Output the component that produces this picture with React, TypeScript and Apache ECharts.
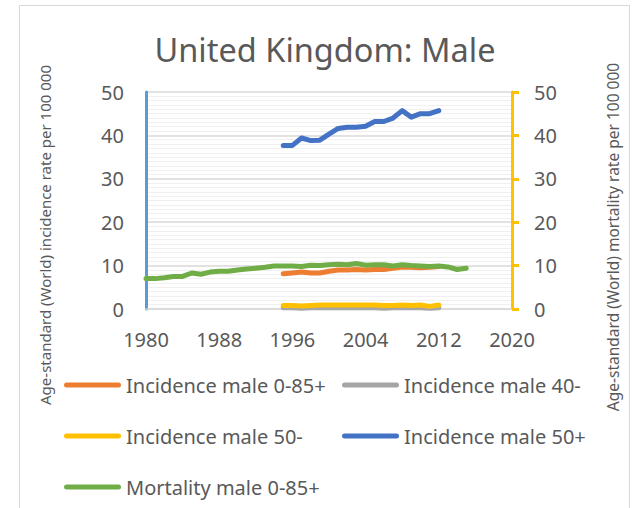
import React, { useEffect, useRef } from "react";
import * as echarts from "echarts";

const incidenceYears = [1995, 1996, 1997, 1998, 1999, 2000, 2001, 2002, 2003, 2004, 2005, 2006, 2007, 2008, 2009, 2010, 2011, 2012];
const incMale0_85 = [8.1, 8.3, 8.5, 8.3, 8.3, 8.7, 9.0, 9.0, 9.1, 9.0, 9.1, 9.1, 9.4, 9.7, 9.6, 9.5, 9.6, 9.8];
const incMale40 = [0.3, 0.3, 0.2, 0.3, 0.3, 0.3, 0.3, 0.3, 0.3, 0.3, 0.3, 0.2, 0.3, 0.3, 0.3, 0.3, 0.2, 0.3];
const incMale50minus = [0.8, 0.8, 0.7, 0.8, 0.9, 0.9, 0.9, 0.9, 0.9, 0.9, 0.9, 0.8, 0.8, 0.9, 0.8, 0.9, 0.6, 0.9];
const incMale50plus = [37.7, 37.7, 39.4, 38.8, 38.9, 40.3, 41.6, 41.9, 41.9, 42.1, 43.2, 43.2, 44.0, 45.7, 44.2, 45.0, 45.0, 45.7];

const mortalityYears = [1980, 1981, 1982, 1983, 1984, 1985, 1986, 1987, 1988, 1989, 1990, 1991, 1992, 1993, 1994, 1995, 1996, 1997, 1998, 1999, 2000, 2001, 2002, 2003, 2004, 2005, 2006, 2007, 2008, 2009, 2010, 2011, 2012, 2013, 2014, 2015];
const mortMale0_85 = [7.0, 7.0, 7.2, 7.5, 7.5, 8.3, 8.0, 8.5, 8.7, 8.7, 9.0, 9.2, 9.4, 9.6, 9.9, 9.9, 9.9, 9.8, 10.1, 10.0, 10.2, 10.3, 10.2, 10.5, 10.1, 10.2, 10.2, 9.9, 10.2, 10.0, 9.9, 9.8, 9.9, 9.7, 9.1, 9.4];

const seriesNames = ["Incidence male 0-85+", "Incidence male 40-", "Incidence male 50-", "Incidence male 50+", "Mortality male 0-85+"];
const seriesColors = ["#ED7D31", "#A5A5A5", "#FFC000", "#4472C4", "#70AD47"];

const titleText = "United Kingdom: Male";
const leftAxisTitle = "Age-standard (World) incidence rate per 100 000";
const rightAxisTitle = "Age-standard (World) mortality rate per 100 000";

const TEXT = "#595959";
const FONT = "'Noto Sans', 'Open Sans', sans-serif";

function pairs(xs: number[], ys: number[]) {
  return xs.map((x, i) => [x, ys[i]]);
}

export default function App() {
  const ref = useRef<HTMLDivElement>(null);
  useEffect(() => {
    document.body.style.margin = "0";
    if (!ref.current) return;
    const chart = echarts.init(ref.current, undefined, { renderer: "svg" });
    const lineSeries = (idx: number, xs: number[], ys: number[], axis: number) => ({
      name: seriesNames[idx],
      type: "line",
      yAxisIndex: axis,
      data: pairs(xs, ys),
      showSymbol: false,
      symbol: "none",
      color: seriesColors[idx],
      lineStyle: { width: 5, color: seriesColors[idx], cap: "round", join: "round" },
      z: 2 + idx,
    });
    const icon = "path://M2.5,0 H54.5 A2.5,2.5 0 0 1 54.5,5 H2.5 A2.5,2.5 0 0 1 2.5,0 Z";
    const legendCommon = {
      orient: "vertical",
      top: 373,
      padding: 0,
      height: 135,
      icon,
      itemWidth: 57,
      itemHeight: 5,
      itemGap: 27,
      textStyle: { fontSize: 20, color: TEXT, fontFamily: FONT, lineHeight: 24 },
    };
    chart.setOption({
      animation: false,
      backgroundColor: "#ffffff",
      textStyle: { fontFamily: FONT },
      grid: { left: 146, right: 121, top: 92, bottom: 199 },
      xAxis: {
        type: "value",
        min: 1980,
        max: 2020,
        interval: 8,
        axisLine: { show: true, lineStyle: { color: "#d9d9d9", width: 1.5 } },
        axisTick: { show: false },
        splitLine: { show: false },
        axisLabel: { fontSize: 20, color: TEXT, fontFamily: FONT, margin: 20, formatter: (v: number) => String(v) },
      },
      yAxis: [
        {
          type: "value",
          min: 0,
          max: 50,
          interval: 10,
          axisLine: { show: true, lineStyle: { color: "#5B9BD5", width: 3 } },
          axisTick: { show: false },
          axisLabel: { fontSize: 20, color: TEXT, fontFamily: FONT, margin: 22 },
          splitLine: { show: true, lineStyle: { color: "#d9d9d9", width: 1.5 } },
          minorTick: { show: false, splitNumber: 10 },
          minorSplitLine: { show: true, lineStyle: { color: "#f0f0f0", width: 1 } },
        },
        {
          type: "value",
          min: 0,
          max: 50,
          interval: 10,
          position: "right",
          axisLine: { show: true, lineStyle: { color: "#FFC000", width: 3 } },
          axisTick: { show: true, inside: false, length: 7, lineStyle: { color: "#FFC000", width: 3 } },
          axisLabel: { fontSize: 20, color: TEXT, fontFamily: FONT, margin: 22 },
          splitLine: { show: false },
        },
      ],
      legend: [
        { ...legendCommon, left: 64, data: [seriesNames[0], seriesNames[2], seriesNames[4]] },
        { ...legendCommon, left: 342, data: [seriesNames[1], seriesNames[3]] },
      ],
      graphic: [
        {
          type: "rect",
          shape: { x: 19.5, y: 5.5, width: 610, height: 520 },
          style: { fill: "none", stroke: "#d9d9d9", lineWidth: 1 },
          silent: true,
          z: -10,
        },
        {
          type: "text",
          x: 325,
          y: 49,
          style: { text: titleText, fontSize: 32.5, fill: TEXT, fontFamily: FONT, align: "center", verticalAlign: "middle" },
        },
        {
          type: "text",
          x: 45,
          y: 235,
          rotation: Math.PI / 2,
          style: { text: leftAxisTitle, fontSize: 15, fill: TEXT, fontFamily: FONT, align: "center", verticalAlign: "middle" },
        },
        {
          type: "text",
          x: 613,
          y: 237,
          rotation: Math.PI / 2,
          style: { text: rightAxisTitle, fontSize: 15.5, fill: TEXT, fontFamily: FONT, align: "center", verticalAlign: "middle" },
        },
      ],
      series: [
        lineSeries(0, incidenceYears, incMale0_85, 0),
        lineSeries(1, incidenceYears, incMale40, 0),
        lineSeries(2, incidenceYears, incMale50minus, 0),
        lineSeries(3, incidenceYears, incMale50plus, 0),
        lineSeries(4, mortalityYears, mortMale0_85, 1),
      ],
    });
    return () => chart.dispose();
  }, []);
  return <div ref={ref} style={{ width: 633, height: 508 }} />;
}
